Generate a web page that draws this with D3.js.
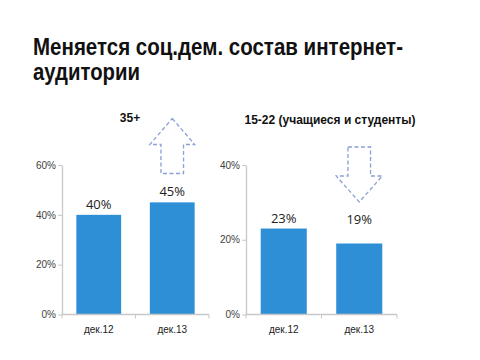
<!DOCTYPE html>
<html><head><meta charset="utf-8">
<script src="https://cdn.jsdelivr.net/npm/d3@7"></script>
<style>
html,body{margin:0;padding:0;background:#fff;}
svg{display:block;font-family:"Liberation Sans",Arial,sans-serif;}
</style></head>
<body><svg id="c" width="480" height="360"></svg>
<script>
const titleLines = ["Меняется соц.дем. состав интернет-", "аудитории"];
const categories = ["дек.12", "дек.13"];
const chartTitles = ["35+", "15-22 (учащиеся и студенты)"];
const values35 = [0.40, 0.45];
const values1522 = [0.23, 0.19];
const ticks35 = [0, 0.2, 0.4, 0.6];
const ticks1522 = [0, 0.2, 0.4];
const arrowDirs = ["up", "down"];

const svg = d3.select("#c");
const barColor = "#2f8fd6";
const axisColor = "#c8c8c8";
const arrowColor = "#8c9fd6";

// Title
const tl = svg.append("g");
const titleW = [370, 107];
titleLines.forEach((t, i) => {
  const el = tl.append("text").attr("x", 33).attr("y", 55 + i * 25)
    .attr("font-size", 24).attr("font-weight", "bold").attr("fill", "#111")
    .text(t);
  el.attr("textLength", titleW[i]).attr("lengthAdjust", "spacingAndGlyphs");
});

const panels = [
  {values: values35, ticks: ticks35, title: chartTitles[0], x0: 62, x1: 209, top: 165, bottom: 314.5, titleX: 130, titleY: 122, arrow: arrowDirs[0], commonLabel: false},
  {values: values1522, ticks: ticks1522, title: chartTitles[1], x0: 246, x1: 397, top: 165, bottom: 314.5, titleX: 330, titleY: 124, arrow: arrowDirs[1], commonLabel: true}
];

panels.forEach(p => {
  const g = svg.append("g");
  const x = d3.scaleBand().domain(categories).range([p.x0, p.x1]).paddingInner(0.39).paddingOuter(0.195);
  const y = d3.scaleLinear().domain([0, d3.max(p.ticks)]).range([p.bottom, p.top]);

  // y axis
  const ya = g.append("g").attr("transform", `translate(${p.x0},0)`)
    .call(d3.axisLeft(y).tickValues(p.ticks).tickFormat(d3.format(".0%")).tickSize(4).tickSizeOuter(0));
  ya.select(".domain").attr("stroke", axisColor).attr("stroke-width", 1.3);
  ya.selectAll(".tick line").attr("stroke", axisColor);
  ya.selectAll(".tick text").attr("fill", "#404040").attr("font-size", 10).attr("x", -6)
    .attr("font-family", "'Liberation Sans Narrow','Liberation Sans',Arial,sans-serif");

  // bars
  g.selectAll("rect.bar").data(p.values).join("rect").attr("class", "bar")
    .attr("x", (d, i) => x(categories[i])).attr("width", x.bandwidth())
    .attr("y", d => y(d)).attr("height", d => y(0) - y(d)).attr("fill", barColor);

  // x axis baseline + boundary ticks
  g.append("line").attr("x1", p.x0).attr("x2", p.x1).attr("y1", y(0)).attr("y2", y(0))
    .attr("stroke", axisColor).attr("stroke-width", 1.3);
  const bounds = [p.x0, p.x0 + x.step() * 1 + x.step() * x.paddingOuter() - x.step() * x.paddingOuter(), p.x1];
  const boundsX = d3.range(categories.length + 1).map(i => i === 0 ? p.x0 : i === categories.length ? p.x1 : (x(categories[i - 1]) + x.bandwidth() + x(categories[i])) / 2);
  g.selectAll("line.bt").data(boundsX).join("line").attr("class", "bt")
    .attr("x1", d => d).attr("x2", d => d).attr("y1", y(0)).attr("y2", y(0) + 4)
    .attr("stroke", axisColor);
  g.selectAll("text.cat").data(categories).join("text").attr("class", "cat")
    .attr("x", d => x(d) + x.bandwidth() / 2).attr("y", y(0) + 18)
    .attr("text-anchor", "middle").attr("font-size", 10).attr("fill", "#222")
    .attr("font-family", "'Liberation Sans Narrow','Liberation Sans',Arial,sans-serif")
    .text(d => d);

  // value labels
  const maxV = d3.max(p.values);
  g.selectAll("text.val").data(p.values).join("text").attr("class", "val")
    .attr("x", (d, i) => x(categories[i]) + x.bandwidth() / 2)
    .attr("y", d => (p.commonLabel ? y(maxV) : y(d)) - 6 + (p.commonLabel && d !== maxV ? 1 : 0))
    .attr("text-anchor", "middle").attr("font-size", 13).attr("fill", "#222")
    .attr("font-family", "'Open Sans','DejaVu Sans',sans-serif")
    .text(d => Math.round(d * 100) + "%");

  // chart title
  g.append("text").attr("x", p.titleX).attr("y", p.titleY).attr("text-anchor", "middle")
    .attr("font-size", 12).attr("font-weight", "bold").attr("fill", "#111").text(p.title);

  // arrow over the second bar
  const cx = x(categories[1]) + x.bandwidth() / 2;
  const hw = x.bandwidth() / 2, sw = 11.3;
  let path;
  if (p.arrow === "up") {
    const tip = 118.5, base = 144.5, bot = 173.5;
    path = `M${cx},${tip} L${cx + hw},${base} L${cx + sw},${base} L${cx + sw},${bot} L${cx - sw},${bot} L${cx - sw},${base} L${cx - hw},${base} Z`;
  } else {
    const topY = 147, base = 176, tip = 202;
    path = `M${cx - sw},${topY} L${cx + sw},${topY} L${cx + sw},${base} L${cx + hw},${base} L${cx},${tip} L${cx - hw},${base} L${cx - sw},${base} Z`;
  }
  g.append("path").attr("d", path).attr("fill", "none").attr("stroke", arrowColor)
    .attr("stroke-width", 1.3).attr("stroke-dasharray", "4,2.5");
});
</script></body></html>
